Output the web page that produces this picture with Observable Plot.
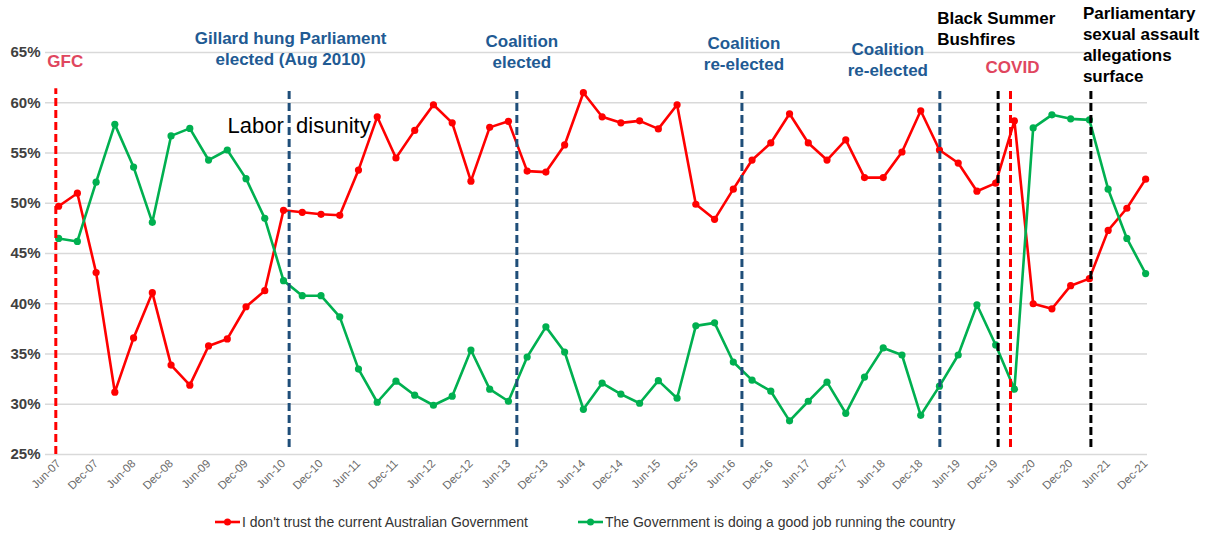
<!DOCTYPE html>
<html>
<head>
<meta charset="utf-8">
<script src="https://cdn.jsdelivr.net/npm/d3@7"></script>
<script src="https://cdn.jsdelivr.net/npm/@observablehq/plot@0.6"></script>
<style>
  html, body { margin: 0; padding: 0; background: #fff; }
  #wrap { position: relative; width: 1211px; height: 535px; font-family: "Liberation Sans", Arial, sans-serif; }
  #legend { position: absolute; top: 513px; left: 215px; height: 18px; display: flex; align-items: center; font-size: 14px; color: #333; white-space: nowrap; }
  .item { display: flex; align-items: center; }
  .item svg { margin-right: 2px; }
</style>
</head>
<body>
<div id="wrap">
  <div id="chart"></div>
  <div id="legend"></div>
</div>
<script>
// Quarterly survey points (Jun-07 .. Dec-21)
const quarters = [
  "Jun-07","Sep-07","Dec-07","Mar-08","Jun-08","Sep-08","Dec-08","Mar-09","Jun-09","Sep-09",
  "Dec-09","Mar-10","Jun-10","Sep-10","Dec-10","Mar-11","Jun-11","Sep-11","Dec-11","Mar-12",
  "Jun-12","Sep-12","Dec-12","Mar-13","Jun-13","Sep-13","Dec-13","Mar-14","Jun-14","Sep-14",
  "Dec-14","Mar-15","Jun-15","Sep-15","Dec-15","Mar-16","Jun-16","Sep-16","Dec-16","Mar-17",
  "Jun-17","Sep-17","Dec-17","Mar-18","Jun-18","Sep-18","Dec-18","Mar-19","Jun-19","Sep-19",
  "Dec-19","Mar-20","Jun-20","Sep-20","Dec-20","Mar-21","Jun-21","Sep-21","Dec-21"
];
const tickLabels = ["Jun-07","Dec-07","Jun-08","Dec-08","Jun-09","Dec-09","Jun-10","Dec-10","Jun-11","Dec-11",
  "Jun-12","Dec-12","Jun-13","Dec-13","Jun-14","Dec-14","Jun-15","Dec-15","Jun-16","Dec-16",
  "Jun-17","Dec-17","Jun-18","Dec-18","Jun-19","Dec-19","Jun-20","Dec-20","Jun-21","Dec-21"];
const distrust = [49.7,51.0,43.1,31.2,36.6,41.1,33.9,31.9,35.8,36.5,39.7,41.3,49.3,49.1,48.9,48.8,53.3,58.6,54.5,
  57.25,59.8,58.0,52.2,57.55,58.15,53.2,53.1,55.8,61.0,58.6,58.0,58.2,57.4,59.8,49.9,48.4,51.4,54.3,56.0,58.9,
  56.0,54.3,56.3,52.55,52.55,55.1,59.2,55.3,54.0,51.2,52.0,58.2,40.0,39.5,41.8,42.5,47.3,49.5,52.4];
const goodJob = [46.5,46.2,52.1,57.85,53.6,48.1,56.7,57.45,54.3,55.3,52.45,48.5,42.3,40.8,40.8,38.7,33.5,30.2,32.3,
  30.9,29.9,30.8,35.4,31.5,30.3,34.7,37.7,35.2,29.5,32.1,31.0,30.1,32.35,30.6,37.8,38.1,34.2,32.4,31.3,28.35,
  30.3,32.2,29.1,32.7,35.6,34.9,28.9,31.8,34.9,39.9,35.9,31.5,57.5,58.8,58.4,58.3,51.4,46.5,43.0];
const yTicks = [25,30,35,40,45,50,55,60,65];
// Event markers: position in quarter index (0 = Jun-07)
const eventNames = ["GFC","Gillard","Coalition 2013","Coalition 2016","Coalition 2019","Black Summer","COVID","Parliament"];
const eventAt =    [-0.15, 12.3, 24.45, 36.46, 47.02, 50.13, 50.79, 55.08];
const eventColor = ["#ff0000","#1f4e79","#1f4e79","#1f4e79","#1f4e79","#000000","#ff0000","#000000"];

const seriesNames = ["I don't trust the current Australian Government", "The Government is doing a good job running the country"];
const seriesColors = ["#ff0000", "#00b050"];

const redData = distrust.map((v, i) => ({i, v}));
const greenData = goodJob.map((v, i) => ({i, v}));
const events = eventAt.map((at, k) => ({at, name: eventNames[k], color: eventColor[k]}));
const tickIdx = tickLabels.map(l => quarters.indexOf(l));

const blueText = "#215a93", pinkText = "#e0465e";
function note(text, k, opts) {
  return Plot.text([events[k]], {
    x: "at", frameAnchor: "top", text: () => text,
    fontWeight: "bold", fontSize: 17, lineHeight: 1.235, lineAnchor: "middle",
    ...opts
  });
}

const chart = Plot.plot({
  width: 1211, height: 500,
  marginLeft: 45, marginRight: 64, marginTop: 52, marginBottom: 46,
  x: {type: "linear", domain: [-0.7, 58.1]},
  y: {domain: [25, 65]},
  color: {type: "identity"},
  style: {fontFamily: "'Liberation Sans', Arial, sans-serif", overflow: "visible", background: "#fff"},
  marks: [
    Plot.ruleY(yTicks, {stroke: "#d9d9d9", strokeWidth: 1.3}),
    Plot.axisY({ticks: yTicks, tickSize: 0, tickPadding: 5, tickFormat: d => d + "%", fontSize: 15, fontWeight: "bold", fill: "#404040", label: null}),
    Plot.axisX({ticks: tickIdx, tickFormat: i => quarters[i], tickRotate: -45, tickSize: 0, tickPadding: 7, fontSize: 11.5, fill: "#6a6a6a", label: null}),
    Plot.line(redData, {x: "i", y: "v", stroke: seriesColors[0], strokeWidth: 2.6}),
    Plot.dot(redData, {x: "i", y: "v", r: 3.6, fill: seriesColors[0]}),
    Plot.line(greenData, {x: "i", y: "v", stroke: seriesColors[1], strokeWidth: 2.6}),
    Plot.dot(greenData, {x: "i", y: "v", r: 3.6, fill: seriesColors[1]}),
    Plot.ruleX(events.slice(0, 1), {x: "at", y1: 25, y2: 61.4, stroke: "color", strokeWidth: 3, strokeDasharray: "8,4"}),
    Plot.ruleX(events.slice(1), {x: "at", y1: 25.7, y2: 61.4, stroke: "color", strokeWidth: 3, strokeDasharray: "8,4"}),
    note("GFC", 0, {fill: pinkText, textAnchor: "start", dx: -8.5, dy: 8}),
    note("Gillard hung Parliament\nelected (Aug 2010)", 1, {fill: blueText, dx: 1.5, dy: -4.5}),
    note("Coalition\nelected", 2, {fill: blueText, dx: 5, dy: -1.5}),
    note("Coalition\nre-elected", 3, {fill: blueText, dx: 2, dy: 0}),
    note("Coalition\nre-elected", 4, {fill: blueText, dx: -52, dy: 6}),
    note("Black Summer\nBushfires", 5, {fill: "#000", textAnchor: "start", dx: -61, dy: -25}),
    note("COVID", 6, {fill: pinkText, dx: 2, dy: 14}),
    note("Parliamentary\nsexual assault\nallegations\nsurface", 7, {fill: "#000", textAnchor: "start", dx: -8, dy: -8.5}),
    Plot.text([events[1]], {x: "at", frameAnchor: "top", text: () => "Labor\u00a0\u00a0disunity", fontSize: 22, fill: "#000", dx: 10, dy: 65})
  ]
});
document.getElementById("chart").appendChild(chart);

const legend = document.getElementById("legend");
seriesNames.forEach((name, k) => {
  const item = document.createElement("div");
  item.className = "item";
  if (k > 0) item.style.marginLeft = "50px";
  item.innerHTML = `<svg width="25" height="10"><line x1="0" y1="5" x2="25" y2="5" stroke="${seriesColors[k]}" stroke-width="2.6"/><circle cx="12.5" cy="5" r="3.5" fill="${seriesColors[k]}"/></svg><span>${name}</span>`;
  legend.appendChild(item);
});
</script>
</body>
</html>
